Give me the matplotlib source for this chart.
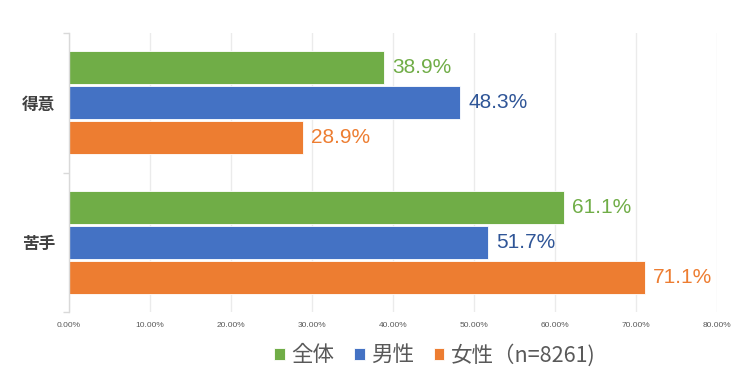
import matplotlib
matplotlib.use("Agg")
import matplotlib.pyplot as plt
import numpy as np

categories = ["得意", "苦手"]
series_names = ["全体", "男性", "女性（n=8261)"]
values = {
    "全体": [38.9, 61.1],
    "男性": [48.3, 51.7],
    "女性（n=8261)": [28.9, 71.1],
}
bar_colors = ["#70AD47", "#4472C4", "#ED7D31"]
label_colors = ["#70AD47", "#2F5597", "#ED7D31"]
xticks = [0, 10, 20, 30, 40, 50, 60, 70, 80]

plt.rcParams['font.family'] = ['Noto Sans CJK JP', 'DejaVu Sans']

fig = plt.figure(figsize=(7.5, 3.83), dpi=100)
ax = fig.add_axes([69/750, 1-312/383, (717-69)/750, (312-33)/383])

y = np.arange(len(categories))
step = 0.251
h = 0.237
handles = []
for i, name in enumerate(series_names):
    pos = y + (i - 1) * step
    b = ax.barh(pos, values[name], height=h, color=bar_colors[i],
                edgecolor="white", linewidth=0.6, label=name, zorder=3)
    handles.append(b)
    for p, v in zip(pos, values[name]):
        ax.annotate(f"{v:.1f}%", xy=(v, p), xytext=(6, 0), textcoords="offset points",
                    va="center", ha="left", fontsize=15, color=label_colors[i],
                    family=['Liberation Sans', 'DejaVu Sans'])

ax.set_xlim(0, 80)
ax.set_ylim(1.5, -0.5)
ax.set_xticks(xticks)
ax.set_xticklabels([f"{t:.2f}%" for t in xticks], fontsize=6, color="#595959",
                   family=['Liberation Sans', 'DejaVu Sans'])
ax.tick_params(axis='x', length=0, pad=7)
ax.set_yticks(y)
ax.set_yticklabels(categories, fontsize=12, color="#404040", fontweight="bold")
ax.tick_params(axis='y', length=0, pad=10)
ax.set_yticks([-0.5, 0.5, 1.5], minor=True)
ax.tick_params(axis='y', which='minor', length=4, color="#D9D9D9", width=1)

ax.grid(axis='x', color="#EBEBEB", linewidth=1, zorder=0)
for s in ["top", "right", "bottom"]:
    ax.spines[s].set_visible(False)
ax.spines["left"].set_color("#D9D9D9")
ax.spines["left"].set_linewidth(1)
ax.spines["left"].set_zorder(4)

leg = fig.legend(handles=handles, labels=series_names, loc="center",
                 bbox_to_anchor=(435/750, 1-355/383), ncol=3, frameon=False,
                 fontsize=15.5, handlelength=0.5, handleheight=0.5, handletextpad=0.3,
                 columnspacing=0.9, labelcolor="#595959")

fig.savefig("out.png", dpi=100)
